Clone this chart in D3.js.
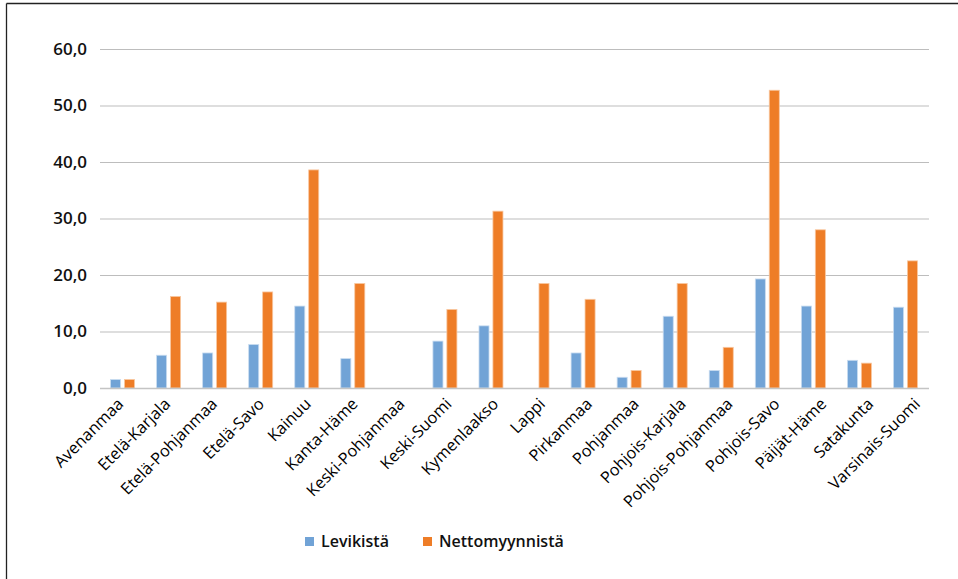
<!DOCTYPE html>
<html><head><meta charset="utf-8">
<script src="https://cdn.jsdelivr.net/npm/d3@7"></script>
<style>html,body{margin:0;padding:0;background:#fff;}svg{display:block;font-family:"Open Sans",sans-serif;}</style>
</head><body>
<script>
const categories = ["Avenanmaa","Etelä-Karjala","Etelä-Pohjanmaa","Etelä-Savo","Kainuu","Kanta-Häme","Keski-Pohjanmaa","Keski-Suomi","Kymenlaakso","Lappi","Pirkanmaa","Pohjanmaa","Pohjois-Karjala","Pohjois-Pohjanmaa","Pohjois-Savo","Päijät-Häme","Satakunta","Varsinais-Suomi"];
const seriesNames = ["Levikistä","Nettomyynnistä"];
const levikista = [1.5,5.8,6.2,7.7,14.5,5.2,0,8.3,11.0,0,6.2,1.9,12.7,3.1,19.3,14.5,4.9,14.3];
const nettomyynnista = [1.5,16.2,15.2,17.0,38.6,18.5,0,13.9,31.3,18.5,15.7,3.1,18.5,7.2,52.7,28.0,4.4,22.5];
const yTicks = [0,10,20,30,40,50,60];
const colors = ["#71A3D6","#EE7D27"];

const W = 958, H = 579;
const svg = d3.select("body").append("svg").attr("width", W).attr("height", H);

// frame
svg.append("line").attr("x1",6.5).attr("x2",W).attr("y1",3.5).attr("y2",3.5).attr("stroke","#222").attr("stroke-width",1.3);
svg.append("line").attr("x1",6.5).attr("x2",6.5).attr("y1",3.5).attr("y2",H).attr("stroke","#222").attr("stroke-width",1.3);

const x0 = d3.scaleBand().domain(categories).range([100, 929]).padding(0);
// category labels are laid out on a slightly wider band than the bars (as in the reference)
const xLabel = d3.scaleBand().domain(categories).range([102.6, 946.1]).padding(0);
const y = d3.scaleLinear().domain([0, 60]).range([388, 49]);

// gridlines
svg.append("g").selectAll("line").data(yTicks.filter(d => d > 0)).join("line")
  .attr("x1", 100).attr("x2", 929)
  .attr("y1", d => y(d) + 0.5).attr("y2", d => y(d) + 0.5)
  .attr("stroke", "#bdbdbd").attr("stroke-width", 1.2);

// y tick labels
const yAxis = d3.axisLeft(y).tickValues(yTicks).tickSize(0).tickPadding(13)
  .tickFormat(d => d3.format(".1f")(d).replace(".", ","));
const gy = svg.append("g").attr("transform", "translate(100,0)").call(yAxis);
gy.select(".domain").remove();
gy.selectAll("text").attr("font-family", "\"Open Sans\",sans-serif").attr("font-size", 17)
  .attr("font-weight", 600).attr("fill", "#111").attr("dy", "0.32em");

const data = categories.map((c, i) => ({cat: c, vals: [levikista[i], nettomyynnista[i]]}));
const x1 = d3.scaleBand().domain([0, 1]).range([-12, 12]).paddingInner(0.28);

const groups = svg.append("g").selectAll("g").data(data).join("g")
  .attr("transform", d => `translate(${x0(d.cat) + x0.bandwidth() / 2 - 0.5},0)`);
groups.selectAll("rect").data(d => d.vals.map((v, k) => ({v, k})).filter(e => e.v > 0)).join("rect")
  .attr("x", e => x1(e.k)).attr("width", x1.bandwidth())
  .attr("y", e => y(e.v)).attr("height", e => y(0) - y(e.v))
  .attr("fill", e => colors[e.k])
  .attr("stroke", e => e.k === 0 ? "#c9dcf0" : "#f8c7a0").attr("stroke-width", 0.8);

// baseline
svg.append("line").attr("x1", 100).attr("x2", 929).attr("y1", 388.5).attr("y2", 388.5)
  .attr("stroke", "#c4c4c4").attr("stroke-width", 1.6);

// x axis labels
const xAxis = d3.axisBottom(xLabel).tickSize(0).tickPadding(0);
const gx = svg.append("g").attr("transform", "translate(0,388)").call(xAxis);
gx.select(".domain").remove();
gx.selectAll("text").attr("font-family", "\"Open Sans\",sans-serif").attr("font-size", 16.3)
  .attr("fill", "#000").attr("text-anchor", "end").attr("dy", null).attr("y", 0)
  .attr("transform", "translate(-1.5,17) rotate(-45)");

// legend
const legend = svg.append("g");
const legX = [305, 423];
seriesNames.forEach((s, i) => {
  legend.append("rect").attr("x", legX[i]).attr("y", 537).attr("width", 9).attr("height", 9).attr("fill", colors[i]);
  legend.append("text").attr("x", legX[i] + 16).attr("y", 546.5).text(s)
    .attr("font-family", "\"Open Sans\",sans-serif").attr("font-size", 16).attr("font-weight", 600).attr("fill", "#111");
});
</script>
</body></html>
